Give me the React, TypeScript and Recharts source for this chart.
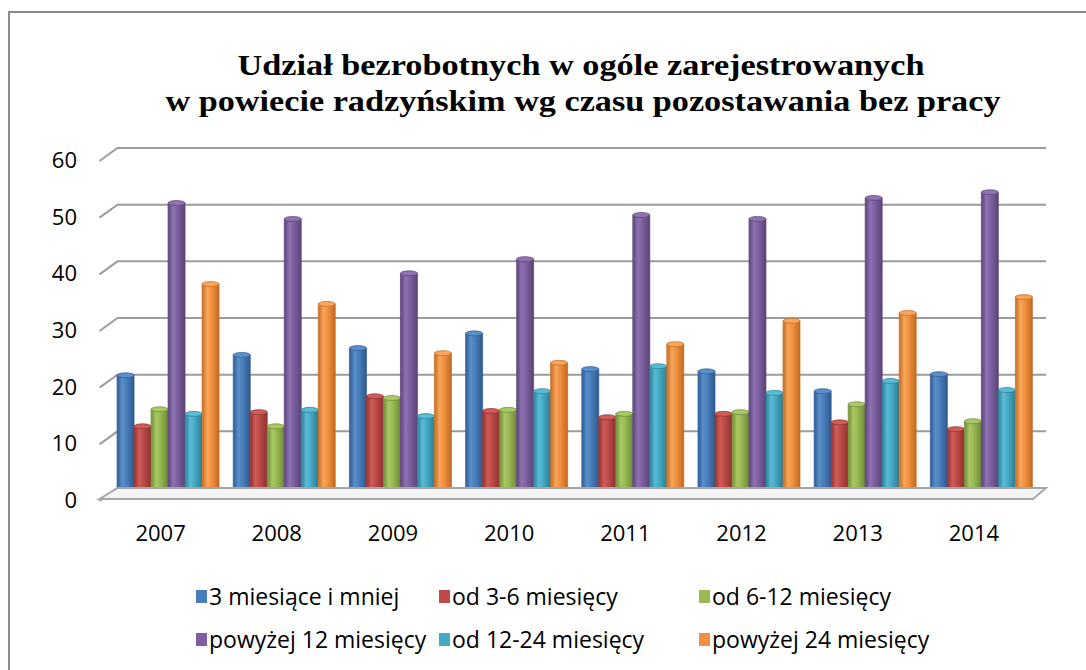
import React from "react"
import { Bar, BarChart, CartesianGrid, ReferenceLine, XAxis, YAxis } from "recharts"

const years = ["2007", "2008", "2009", "2010", "2011", "2012", "2013", "2014"]
const upTo3 = [21.3, 24.9, 26.1, 28.7, 22.4, 22.0, 18.5, 21.5]
const from3to6 = [12.3, 14.8, 17.6, 15.0, 13.9, 14.5, 13.0, 11.8]
const from6to12 = [15.3, 12.3, 17.3, 15.2, 14.5, 14.8, 16.2, 13.2]
const over12 = [51.7, 48.9, 39.3, 41.8, 49.6, 48.9, 52.6, 53.6]
const from12to24 = [14.5, 15.2, 14.1, 18.5, 22.9, 18.2, 20.3, 18.7]
const over24 = [37.4, 33.9, 25.2, 23.5, 26.8, 30.9, 32.3, 35.1]
const yTicks = [0, 10, 20, 30, 40, 50, 60]

const seriesNames = [
  "3 miesiące i mniej",
  "od 3-6 miesięcy",
  "od 6-12 miesięcy",
  "powyżej 12 miesięcy",
  "od 12-24 miesięcy",
  "powyżej 24 miesięcy",
]
const seriesValues = [upTo3, from3to6, from6to12, over12, from12to24, over24]
// base / light / dark
const seriesColors = [
  ["#4a7ebb", "#5b8fcc", "#2f5a8f"],
  ["#be4b48", "#cf5c58", "#8e3230"],
  ["#98b954", "#a9c866", "#6e8a36"],
  ["#7d60a0", "#8e72b2", "#5a4478"],
  ["#46aac5", "#5bbbd5", "#2c7d94"],
  ["#f2913f", "#f7a65c", "#c06a22"],
]

const data = years.map((year, i) => {
  const row: Record<string, string | number> = { year }
  seriesValues.forEach((vals, s) => {
    row["s" + s] = vals[i]
  })
  return row
})

const font = "'Open Sans', sans-serif"
const titleFont = "'Liberation Serif', serif"

function Cylinder(props: any) {
  const { x, y, width, height, idx } = props
  if (!height || height <= 0) return null
  const [base, light, dark] = seriesColors[idx]
  const rx = width / 2
  const ry = 2.5
  const cy = y + 1
  const bottom = y + height
  return (
    <g>
      <path
        d={`M${x},${cy} L${x},${bottom - ry} A${rx},${ry} 0 0 0 ${x + width},${bottom - ry} L${x + width},${cy} Z`}
        fill={`url(#cyl${idx})`}
        stroke={dark}
        strokeWidth={0.7}
      />
      <ellipse cx={x + rx} cy={cy} rx={rx} ry={ry} fill={light} stroke={dark} strokeWidth={0.7} />
      <line x1={x + 0.5} x2={x + 0.5} y1={cy} y2={bottom - ry} stroke={base} strokeOpacity={0.3} />
    </g>
  )
}

function GridLine(props: any) {
  const { x1, x2, y1 } = props
  const d = `M${x1 - 10},${y1 + 6} L${x1 + 8},${y1 - 7} L${x2 + 7},${y1 - 7}`
  return <path key={props.key} d={d} fill="none" stroke="#9c9c9c" strokeWidth={2} />
}

function Floor(props: any) {
  const { x1, x2, y1 } = props
  const d = `M${x1 - 10},${y1 + 4} L${x1 + 8},${y1 - 7} L${x2 + 7},${y1 - 7} L${x2 - 6},${y1 + 4} Z`
  return <path d={d} fill="#f4f4f4" stroke="#a6a6a6" strokeWidth={2} />
}

function YTick(props: any) {
  const { y, payload } = props
  return (
    <text x={77} y={y + 13} textAnchor="end" fontFamily={font} fontSize={22} fill="#000">
      {payload.value}
    </text>
  )
}

function XTick(props: any) {
  const { x, payload } = props
  return (
    <text x={x - 7} y={541} textAnchor="middle" fontFamily={font} fontSize={22} fill="#000">
      {payload.value}
    </text>
  )
}

const legendCols = [196, 439, 699]
const legendRows = [581, 624]

export default function App() {
  return (
    <div style={{ position: "absolute", left: 0, top: 0, width: 1086, height: 670, background: "#fff", overflow: "hidden" }}>
      <svg width={1086} height={670} style={{ position: "absolute", left: 0, top: 0 }}>
        <path d="M9,670 L9,12 L1086,12" fill="none" stroke="#8c8c8c" strokeWidth={2} />
        <text
          x={581}
          y={75}
          textAnchor="middle"
          fontFamily={titleFont}
          fontWeight="bold"
          fontSize={29}
          textLength={687}
          lengthAdjust="spacingAndGlyphs"
        >
          Udział bezrobotnych w ogóle zarejestrowanych
        </text>
        <text
          x={583}
          y={111}
          textAnchor="middle"
          fontFamily={titleFont}
          fontWeight="bold"
          fontSize={29}
          textLength={835}
          lengthAdjust="spacingAndGlyphs"
        >
          w powiecie radzyńskim wg czasu pozostawania bez pracy
        </text>
      </svg>
      <div style={{ position: "absolute", left: 0, top: 0 }}>
        <BarChart
          width={1086}
          height={670}
          data={data}
          margin={{ top: 155, right: 47, bottom: 145, left: 0 }}
          barCategoryGap="6.5%"
          barGap={0}
        >
          <defs>
            {seriesColors.map(([base, light, dark], i) => (
              <linearGradient key={i} id={`cyl${i}`} x1="0" y1="0" x2="1" y2="0">
                <stop offset="0%" stopColor={dark} />
                <stop offset="30%" stopColor={light} />
                <stop offset="55%" stopColor={base} />
                <stop offset="100%" stopColor={dark} />
              </linearGradient>
            ))}
          </defs>
          <CartesianGrid vertical={false} horizontal={GridLine} />
          <ReferenceLine y={0} shape={Floor} />
          <XAxis dataKey="year" axisLine={false} tickLine={false} tick={XTick} height={30} interval={0} />
          <YAxis
            domain={[0, 60]}
            ticks={yTicks}
            axisLine={false}
            tickLine={false}
            tick={YTick}
            width={109.5}
            interval={0}
          />
          {seriesNames.map((name, i) => (
            <Bar
              key={name}
              dataKey={"s" + i}
              name={name}
              fill={seriesColors[i][0]}
              isAnimationActive={false}
              shape={(p: any) => <Cylinder {...p} idx={i} />}
            />
          ))}
        </BarChart>
      </div>
      {seriesNames.map((name, i) => (
        <div
          key={name}
          style={{
            position: "absolute",
            left: legendCols[i % 3],
            top: legendRows[Math.floor(i / 3)],
            display: "flex",
            alignItems: "center",
            fontFamily: font,
            fontSize: 23,
            lineHeight: "30px",
            whiteSpace: "nowrap",
            color: "#000",
          }}
        >
          <span style={{ display: "inline-block", width: 11, height: 13, background: seriesColors[i][0], marginRight: 2 }} />
          {name}
        </div>
      ))}
    </div>
  )
}
